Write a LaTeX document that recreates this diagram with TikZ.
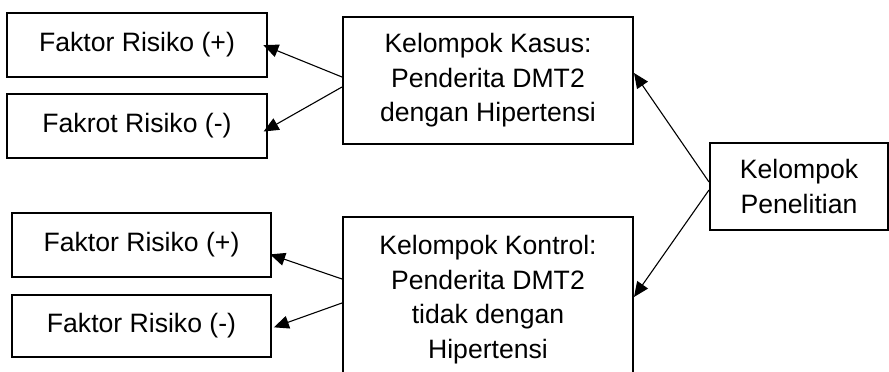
\documentclass[tikz,border=0pt]{standalone}
\usepackage{fontspec}
\setmainfont{Liberation Sans}
\usetikzlibrary{arrows.meta}
\begin{document}
\begin{tikzpicture}[x=1pt,y=-1pt,
  box/.style={draw=black, line width=2pt, rectangle, inner sep=0pt, align=center,
    font=\fontsize{26.6}{34.5}\selectfont},
  conn/.style={line width=1.1pt, -{Triangle[length=15pt,width=13pt]}}]
\useasboundingbox[fill=white] (0,0) rectangle (889,372);
% left top boxes
\node[box, minimum width=260pt, minimum height=64pt] (a1) at (137,45) {Faktor Risiko (+)};
\node[box, minimum width=260pt, minimum height=64pt] (a2) at (137,126) {Fakrot Risiko (-)};
% left bottom boxes
\node[box, minimum width=259pt, minimum height=64pt] (b1) at (141.5,245) {Faktor Risiko (+)};
\node[box, minimum width=259pt, minimum height=62pt] (b2) at (141.5,326) {Faktor Risiko (-)};
% middle boxes
\node[box, minimum width=290pt, minimum height=127pt] (kasus) at (488,80.5)
  {Kelompok Kasus:\\Penderita DMT2\\dengan Hipertensi};
\node[box, minimum width=290pt, minimum height=165pt] (kontrol) at (488,299.5)
  {Kelompok Kontrol:\\Penderita DMT2\\tidak dengan\\Hipertensi};
% right box
\node[box, minimum width=178pt, minimum height=87pt] (pen) at (799,186.5)
  {Kelompok\\Penelitian};
% connectors
\draw[conn, shorten >=-5pt] (kasus.west |- 0,77) -- (a1.east |- 0,47);
\draw[conn, shorten >=-5pt] (kasus.west |- 0,87) -- (a2.east |- 0,129);
\draw[conn, shorten >=-2pt] (kontrol.west |- 0,279) -- (b1.east |- 0,255);
\draw[conn, shorten >=2pt] (kontrol.west |- 0,303) -- (b2.east |- 0,328);
\draw[conn] (pen.west |- 0,182) -- (kasus.east |- 0,73);
\draw[conn] (pen.west |- 0,190) -- (kontrol.east |- 0,297);
\end{tikzpicture}
\end{document}
